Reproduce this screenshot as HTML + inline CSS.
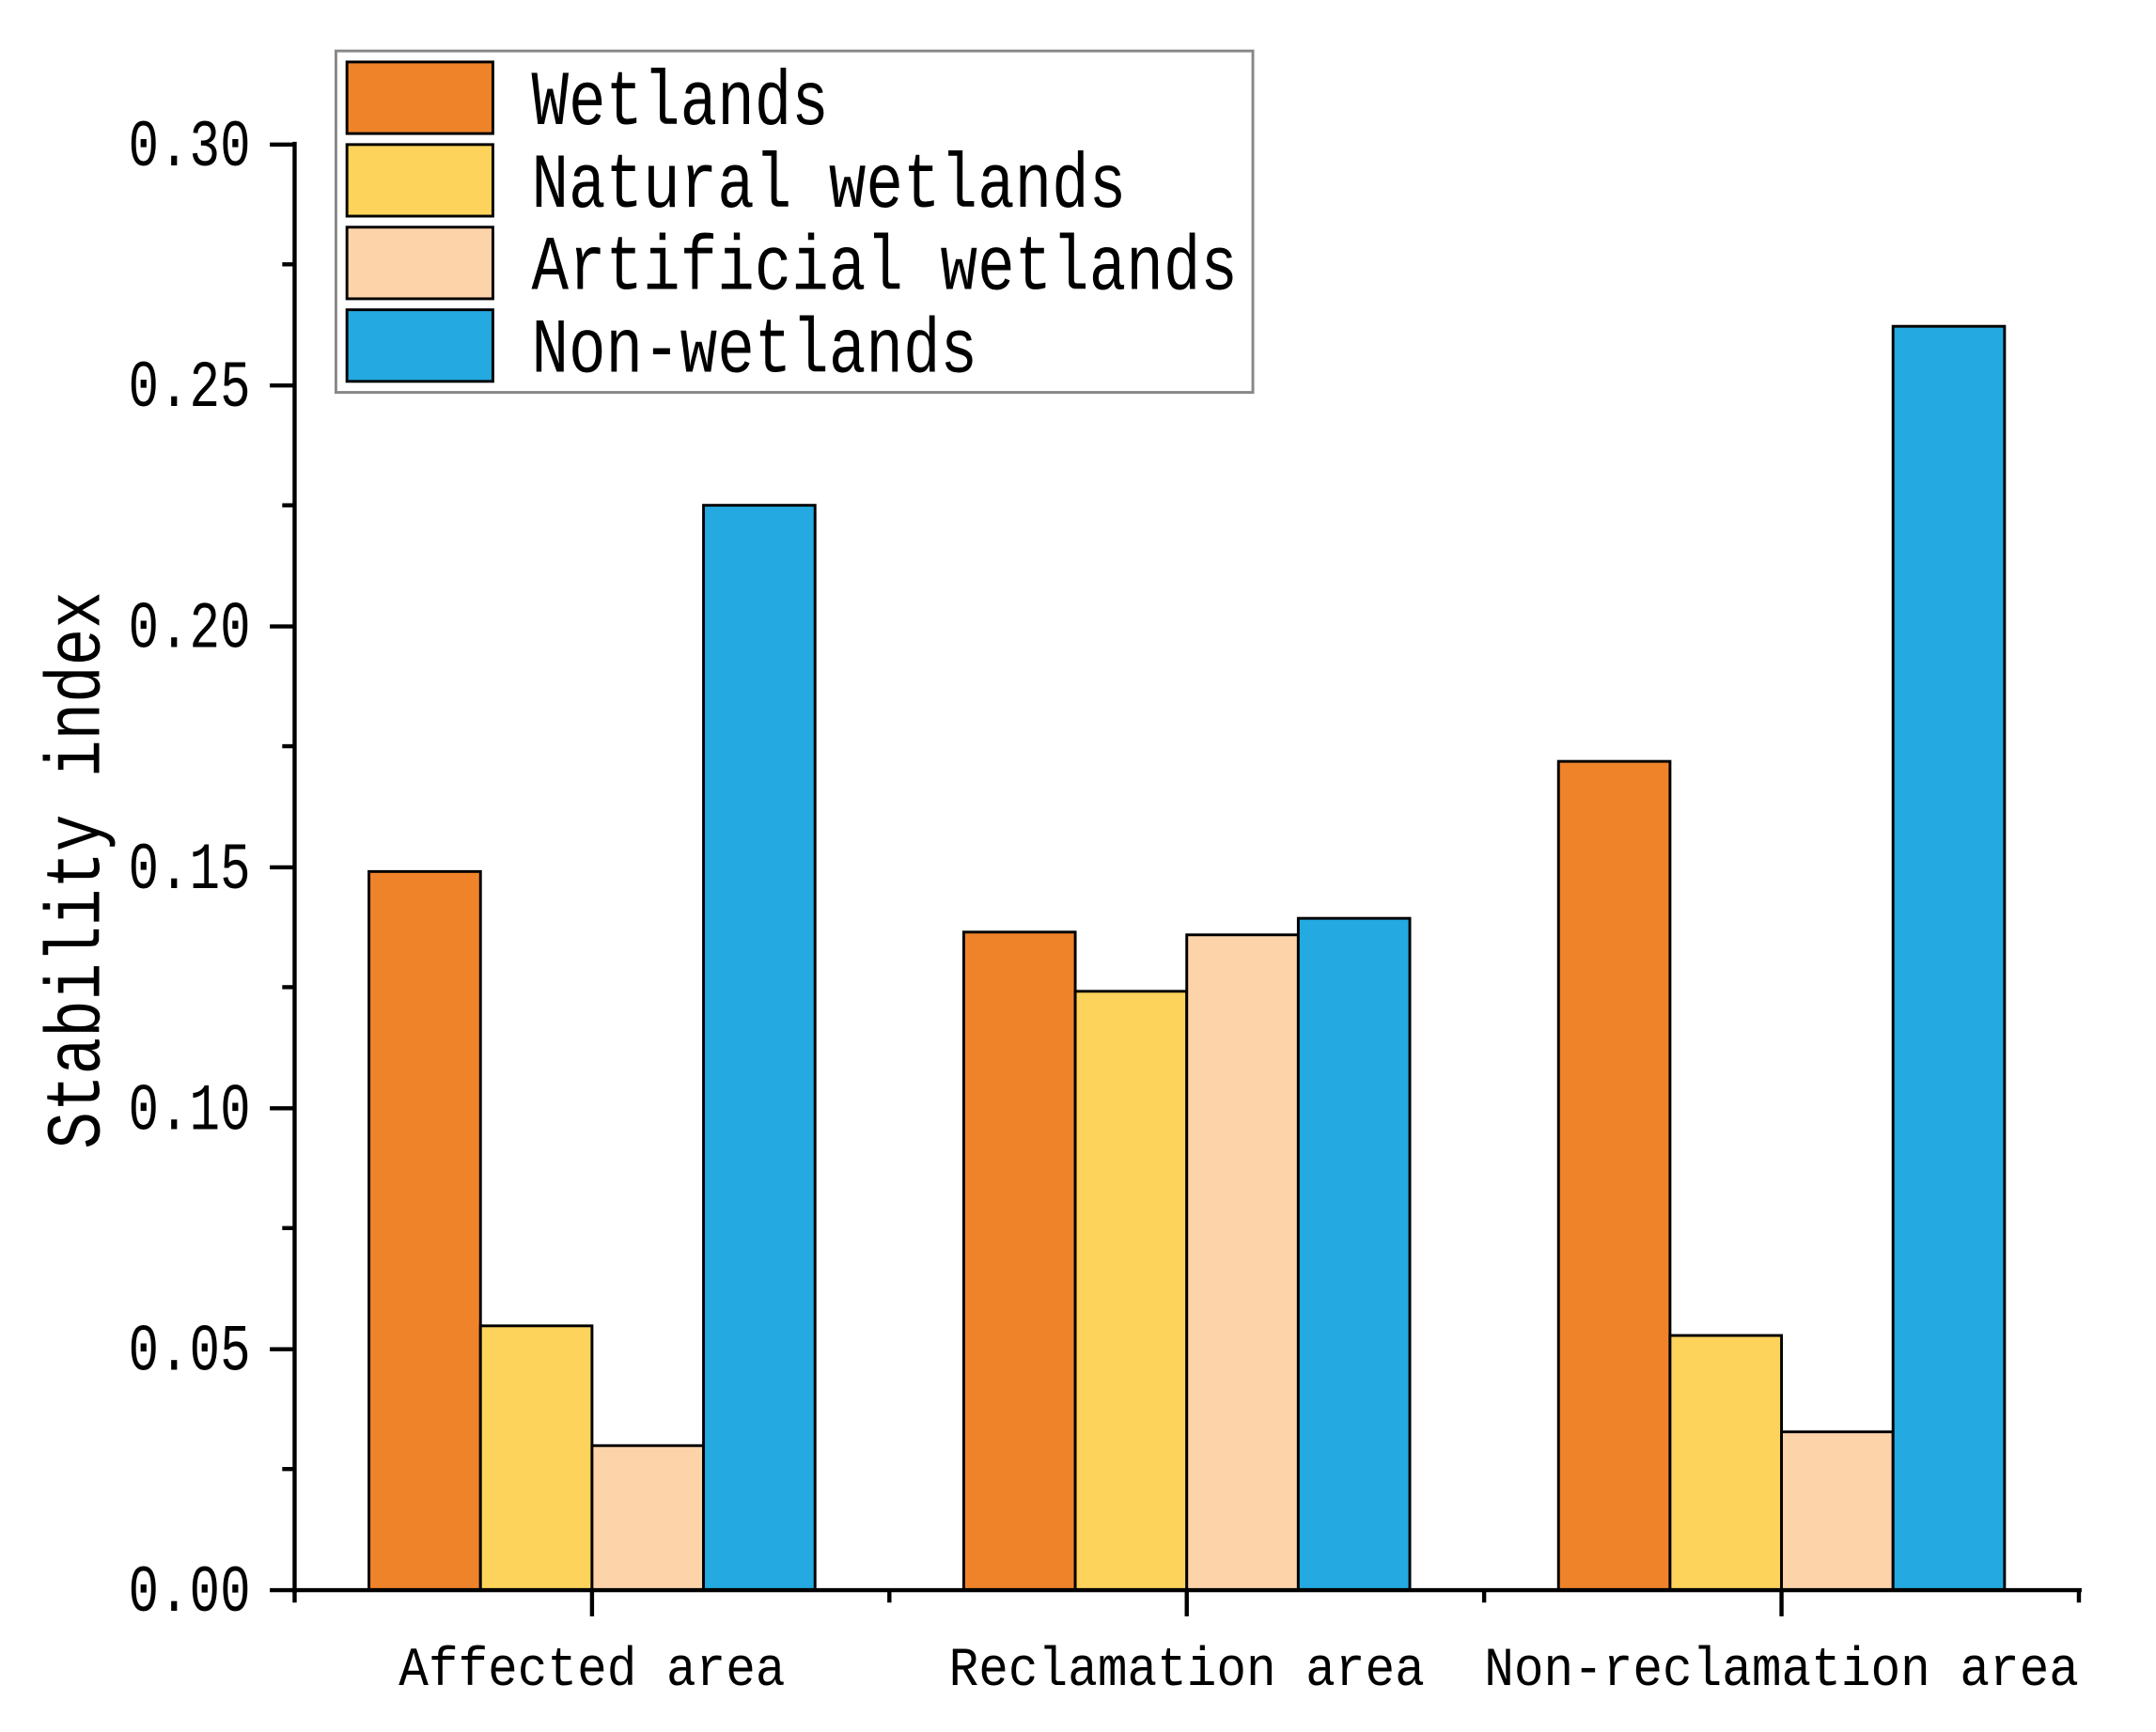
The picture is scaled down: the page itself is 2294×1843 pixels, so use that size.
<!DOCTYPE html>
<html><head><meta charset="utf-8"><style>html,body{margin:0;padding:0;background:#fff}svg{display:block}</style></head>
<body>
<svg width="2294" height="1843" viewBox="0 0 1566 1258" preserveAspectRatio="none" xmlns="http://www.w3.org/2000/svg" font-family="'Liberation Mono', monospace">
<rect width="1566" height="1258" fill="#fff"/>
<g stroke="#000" stroke-width="2">
<rect x="268" y="633" width="81" height="522" fill="#EF832A"/>
<rect x="349" y="963" width="81" height="192" fill="#FDD35B"/>
<rect x="430" y="1050" width="81" height="105" fill="#FDD3A9"/>
<rect x="511" y="367" width="81" height="788" fill="#24A9E1"/>
<rect x="700" y="677" width="81" height="478" fill="#EF832A"/>
<rect x="781" y="720" width="81" height="435" fill="#FDD35B"/>
<rect x="862" y="679" width="81" height="476" fill="#FDD3A9"/>
<rect x="943" y="667" width="81" height="488" fill="#24A9E1"/>
<rect x="1132" y="553" width="81" height="602" fill="#EF832A"/>
<rect x="1213" y="970" width="81" height="185" fill="#FDD35B"/>
<rect x="1294" y="1040" width="81" height="115" fill="#FDD3A9"/>
<rect x="1375" y="237" width="81" height="918" fill="#24A9E1"/>
</g>
<g stroke="#000" stroke-width="3">
<line x1="214" y1="103" x2="214" y2="1157"/>
<line x1="212" y1="1155" x2="1512" y2="1155"/>
<line x1="196" y1="105" x2="214" y2="105"/>
<line x1="196" y1="280" x2="214" y2="280"/>
<line x1="196" y1="455" x2="214" y2="455"/>
<line x1="196" y1="630" x2="214" y2="630"/>
<line x1="196" y1="805" x2="214" y2="805"/>
<line x1="196" y1="980" x2="214" y2="980"/>
<line x1="196" y1="1155" x2="214" y2="1155"/>
<line x1="205" y1="192" x2="214" y2="192"/>
<line x1="205" y1="367" x2="214" y2="367"/>
<line x1="205" y1="542" x2="214" y2="542"/>
<line x1="205" y1="717" x2="214" y2="717"/>
<line x1="205" y1="892" x2="214" y2="892"/>
<line x1="205" y1="1067" x2="214" y2="1067"/>
<line x1="430" y1="1155" x2="430" y2="1174"/>
<line x1="862" y1="1155" x2="862" y2="1174"/>
<line x1="1294" y1="1155" x2="1294" y2="1174"/>
<line x1="214" y1="1155" x2="214" y2="1164"/>
<line x1="646" y1="1155" x2="646" y2="1164"/>
<line x1="1078" y1="1155" x2="1078" y2="1164"/>
<line x1="1510" y1="1155" x2="1510" y2="1164"/>
</g>
<g font-size="37" text-anchor="end" fill="#000">
<text transform="translate(182,120) scale(1,1.3)">0.30</text>
<text transform="translate(182,295) scale(1,1.3)">0.25</text>
<text transform="translate(182,470) scale(1,1.3)">0.20</text>
<text transform="translate(182,645) scale(1,1.3)">0.15</text>
<text transform="translate(182,820) scale(1,1.3)">0.10</text>
<text transform="translate(182,995) scale(1,1.3)">0.05</text>
<text transform="translate(182,1170) scale(1,1.3)">0.00</text>
</g>
<g font-size="36" text-anchor="middle" fill="#000">
<text transform="translate(430,1224) scale(1,1.1)">Affected area</text>
<text transform="translate(862,1224) scale(1,1.1)">Reclamation area</text>
<text transform="translate(1294,1224) scale(1,1.1)">Non-reclamation area</text>
</g>
<text transform="translate(72,632) rotate(-90) scale(1,1.25)" font-size="45" text-anchor="middle">Stability index</text>
<rect x="244" y="37" width="666" height="248" fill="#fff" stroke="#888" stroke-width="2"/>
<g stroke="#000" stroke-width="2">
<rect x="252" y="45" width="106" height="52" fill="#EF832A"/>
<rect x="252" y="105" width="106" height="52" fill="#FDD35B"/>
<rect x="252" y="165" width="106" height="52" fill="#FDD3A9"/>
<rect x="252" y="225" width="106" height="52" fill="#24A9E1"/>
</g>
<g font-size="45" fill="#000">
<text transform="translate(386,90) scale(1,1.25)">Wetlands</text>
<text transform="translate(386,150) scale(1,1.25)">Natural wetlands</text>
<text transform="translate(386,210) scale(1,1.25)">Artificial wetlands</text>
<text transform="translate(386,270) scale(1,1.25)">Non-wetlands</text>
</g>
</svg>
</body></html>
